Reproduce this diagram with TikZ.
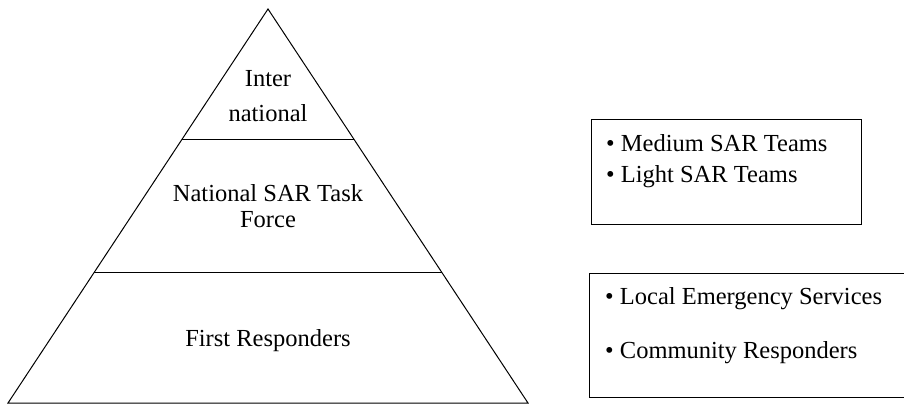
\documentclass[tikz,border=0pt]{standalone}
\usepackage{fontspec}
\setmainfont{Liberation Serif}
\usetikzlibrary{calc}
\begin{document}
\begin{tikzpicture}[x=1pt,y=-1pt,
  lbl/.style={inner sep=0pt,anchor=base,font=\fontsize{24.5}{26}\selectfont},
  item/.style={inner sep=0pt,anchor=base west,font=\fontsize{24.5}{26}\selectfont},
  edge/.style={line width=1pt,black}]
\useasboundingbox (0,0) rectangle (904,405);
\begin{scope}
\clip (0,0) rectangle (904,405);
% pyramid
\coordinate (apex) at (268,9);
\coordinate (bl) at (8,403);
\coordinate (br) at (528,403);
\coordinate (l1a) at ($(apex)!131/394!(bl)$);
\coordinate (l1b) at ($(apex)!131/394!(br)$);
\coordinate (l2a) at ($(apex)!263/394!(bl)$);
\coordinate (l2b) at ($(apex)!263/394!(br)$);
\draw[edge,line join=miter] (apex) -- (br) -- (bl) -- cycle;
\draw[edge] (l1a) -- (l1b);
\draw[edge] (l2a) -- (l2b);
\node[lbl] (t1a) at (268,86) {Inter};
\node[lbl] (t1b) at (268,121.5) {national};
\node[lbl] (t2a) at (268,201.5) {National SAR Task};
\node[lbl] (t2b) at (268,227.5) {Force};
\node[lbl] (t3) at (268,346.5) {First Responders};
% boxes
\draw[edge] (591,119) rectangle (861,224);
\draw[edge] (589,273) rectangle (920,397);
\node[item] (b1a) at (606,151) {• Medium SAR Teams};
\node[item] (b1b) at (606,182) {• Light SAR Teams};
\node[item] (b2a) at (605,304) {• Local Emergency Services};
\node[item] (b2b) at (605,358) {• Community Responders};
\end{scope}
\end{tikzpicture}
\end{document}
